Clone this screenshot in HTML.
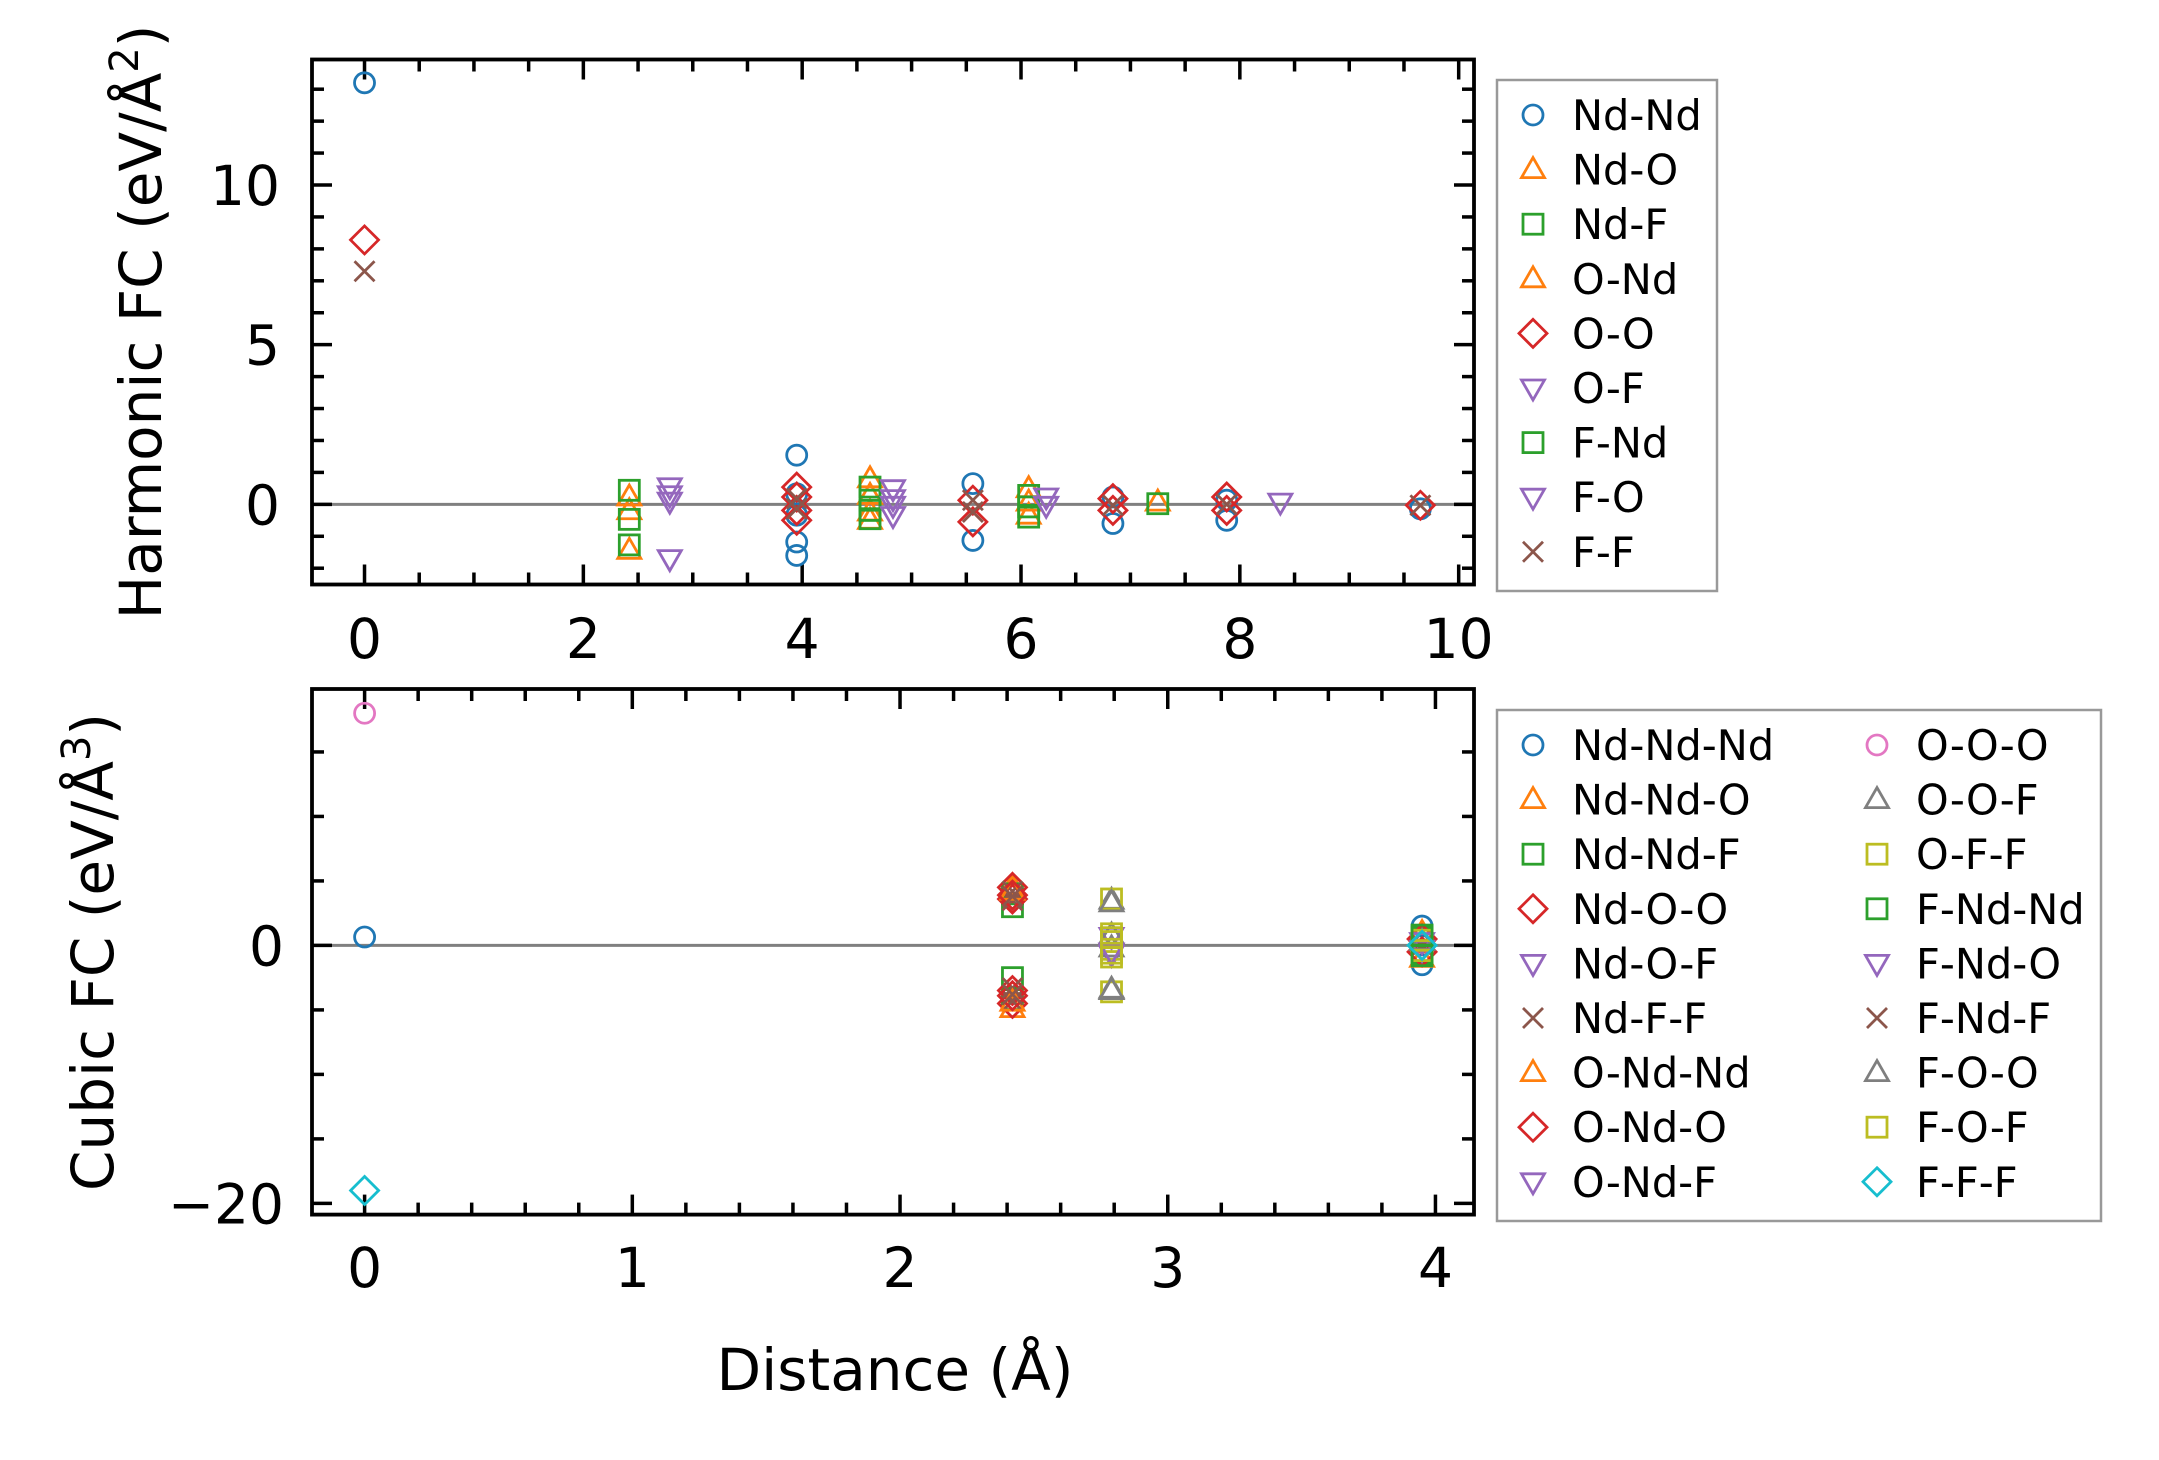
<!DOCTYPE html>
<html><head><meta charset="utf-8">
<style>
html,body{margin:0;padding:0;background:#fff;}
svg{display:block;}
text{font-family:"DejaVu Sans","Liberation Sans",sans-serif;fill:#000;}
</style></head>
<body>
<svg id="fig" width="2159" height="1460" viewBox="0 0 2159 1460" xmlns="http://www.w3.org/2000/svg">
<rect x="0" y="0" width="2159" height="1460" fill="#fff"/>
</svg>
<script>
// ---------- Harmonic (top) data ----------
const hNdNdX=[0,3.95,3.95,3.95,3.95,3.95,5.56,5.56,6.84,6.84,7.88,7.88,9.65];
const hNdNdY=[13.2,1.54,0.33,-0.34,-1.18,-1.6,0.65,-1.13,0.23,-0.6,0.13,-0.5,-0.14];
const hNdOX=[2.42,2.42,2.42,4.62,4.62,4.62,4.62,6.07,6.07,6.07,7.25];
const hNdOY=[0.23,-0.2,-1.44,0.8,0.28,-0.24,-0.5,0.49,0.07,-0.34,0.07];
const hNdFX=[2.42,2.42,2.42,4.62,4.62,4.62,4.62,6.07,6.07,6.07,7.25];
const hNdFY=[0.44,-0.47,-1.27,0.54,0.13,-0.19,-0.45,0.28,-0.08,-0.4,0.02];
const hONdX=[];
const hONdY=[];
const hOOX=[0,3.95,3.95,3.95,3.95,5.56,5.56,6.84,6.84,7.88,7.88,9.65];
const hOOY=[8.28,0.54,0.23,-0.19,-0.5,0.13,-0.55,0.18,-0.19,0.23,-0.19,-0.03];
const hOFX=[2.79,2.79,2.79,2.79,4.83,4.83,4.83,4.83,6.23,6.23,8.37];
const hOFY=[0.55,0.3,0.1,-1.7,0.49,0.18,-0.03,-0.35,0.23,-0.03,0.07];
const hFNdX=[];
const hFNdY=[];
const hFOX=[];
const hFOY=[];
const hFFX=[0,3.95,3.95,5.56,5.56,6.84,7.88,9.65];
const hFFY=[7.3,0.18,-0.14,0.13,-0.24,-0.03,0.0,-0.03];
const hLabels=["Nd-Nd","Nd-O","Nd-F","O-Nd","O-O","O-F","F-Nd","F-O","F-F"];
const hXTicks=[0,2,4,6,8,10];
const hYTicks=[0,5,10];

// ---------- Cubic (bottom) data ----------
const cNdNdNdX=[0,3.95,3.95,3.95,3.95];
const cNdNdNdY=[0.65,1.5,-1.5,0.8,-0.8];
const cNdNdOX=[2.42,2.42,3.95,3.95];
const cNdNdOY=[4.6,-4.9,1.0,-1.0];
const cNdNdFX=[2.42,2.42,2.42,2.42,3.95,3.95];
const cNdNdFY=[4.0,3.0,-2.5,-4.2,0.6,-0.6];
const cNdOOX=[2.42,2.42,2.42,2.42,3.95,3.95];
const cNdOOY=[4.5,3.6,-3.5,-4.5,0.5,-0.5];
const cNdOFX=[2.79,2.79,3.95];
const cNdOFY=[0.7,-0.7,0.3];
const cNdFFX=[2.42,2.42,2.42,2.42,3.95];
const cNdFFY=[4.2,3.5,-3.3,-4.3,0];
const cONdNdX=[2.42,2.42];
const cONdNdY=[4.2,-4.4];
const cONdOX=[2.42,2.42];
const cONdOY=[3.9,-3.9];
const cONdFX=[3.95];
const cONdFY=[-0.3];
const cOOOX=[0];
const cOOOY=[18.0];
const cOOFX=[2.79,2.79,2.79,2.79,3.95];
const cOOFY=[3.5,0.8,-0.2,-3.4,0.3];
const cOFFX=[2.79,2.79,2.79,2.79,2.79,2.79,3.95,3.95];
const cOFFY=[3.6,0.9,0.3,-0.3,-0.9,-3.6,0.4,-0.4];
const cFNdNdX=[3.95,3.95];
const cFNdNdY=[0.8,-0.8];
const cFNdOX=[2.79];
const cFNdOY=[-0.5];
const cFNdFX=[2.42,2.42];
const cFNdFY=[3.8,-3.8];
const cFOOX=[2.79,2.79];
const cFOOY=[3.3,-3.5];
const cFOFX=[2.79,2.79];
const cFOFY=[0.6,-0.6];
const cFFFX=[0,3.95];
const cFFFY=[-19.0,0];
const cLabels=["Nd-Nd-Nd","Nd-Nd-O","Nd-Nd-F","Nd-O-O","Nd-O-F","Nd-F-F","O-Nd-Nd","O-Nd-O","O-Nd-F","O-O-O","O-O-F","O-F-F","F-Nd-Nd","F-Nd-O","F-Nd-F","F-O-O","F-O-F","F-F-F"];
const cXTicks=[0,1,2,3,4];
const cYTicks=[-20,0];

const C={blue:"#1f77b4",orange:"#ff7f0e",green:"#2ca02c",red:"#d62728",purple:"#9467bd",brown:"#8c564b",pink:"#e377c2",gray:"#7f7f7f",olive:"#bcbd22",cyan:"#17becf"};

const svg=document.getElementById('fig');
const NS="http://www.w3.org/2000/svg";
function mk(tag,attrs,parent){const e=document.createElementNS(NS,tag);for(const k in attrs)e.setAttribute(k,attrs[k]);(parent||svg).appendChild(e);return e;}

function marker(g,shape,color,cx,cy){
  let e;const sw=2.8;
  if(shape==='o'){e=mk('circle',{cx:cx,cy:cy,r:10,fill:'none',stroke:color,'stroke-width':sw},g);}
  else if(shape==='^'){e=mk('polygon',{points:`${cx},${cy-12} ${cx-11.5},${cy+8} ${cx+11.5},${cy+8}`,fill:'none',stroke:color,'stroke-width':sw},g);}
  else if(shape==='v'){e=mk('polygon',{points:`${cx},${cy+12} ${cx-11.5},${cy-8} ${cx+11.5},${cy-8}`,fill:'none',stroke:color,'stroke-width':sw},g);}
  else if(shape==='s'){e=mk('rect',{x:cx-10,y:cy-10,width:20,height:20,fill:'none',stroke:color,'stroke-width':sw},g);}
  else if(shape==='D'){e=mk('polygon',{points:`${cx},${cy-14} ${cx+14},${cy} ${cx},${cy+14} ${cx-14},${cy}`,fill:'none',stroke:color,'stroke-width':sw},g);}
  else if(shape==='x'){e=mk('path',{d:`M${cx-10},${cy-10}L${cx+10},${cy+10}M${cx-10},${cy+10}L${cx+10},${cy-10}`,fill:'none',stroke:color,'stroke-width':sw},g);}
  return e;
}

function axes(cfg){
  const {name,L,R,T,B,xmin,xmax,ymin,ymax}=cfg;
  const sx=v=>L+(v-xmin)/(xmax-xmin)*(R-L);
  const sy=v=>B-(v-ymin)/(ymax-ymin)*(B-T);
  const g=mk('g',{});
  
  
  const zl=mk('line',{x1:L,x2:R,y1:sy(0),y2:sy(0),stroke:'#808080','stroke-width':3},g);
  
  
  const tg=mk('g',{stroke:'#000','stroke-width':3.5},g);
  
  
  const addX=(v,len)=>{const x=sx(v);if(x<L-1||x>R+1)return;mk('line',{x1:x,x2:x,y1:B,y2:B-len},tg);mk('line',{x1:x,x2:x,y1:T,y2:T+len},tg);};
  const addY=(v,len)=>{const y=sy(v);if(y<T-1||y>B+1)return;mk('line',{x1:L,x2:L+len,y1:y,y2:y},tg);mk('line',{x1:R,x2:R-len,y1:y,y2:y},tg);};
  for(let v=Math.ceil(xmin/cfg.xMinor)*cfg.xMinor;v<=xmax;v+=cfg.xMinor){const isMaj=Math.abs(v/cfg.xMajor-Math.round(v/cfg.xMajor))<1e-6;addX(v,isMaj?20:12);}
  for(let v=Math.ceil(ymin/cfg.yMinor)*cfg.yMinor;v<=ymax;v+=cfg.yMinor){const isMaj=Math.abs(v/cfg.yMajor-Math.round(v/cfg.yMajor))<1e-6;addY(v,isMaj?20:12);}
  cfg.xTicks.forEach(v=>{const t=mk('text',{x:sx(v),y:cfg.xLabY,'font-size':55,'text-anchor':'middle'},g);t.textContent=String(v);
    
    });
  cfg.yTicks.forEach(v=>{const t=mk('text',{x:cfg.yLabX,y:sy(v)+20,'font-size':55,'text-anchor':'end'},g);t.textContent=v<0?'\u2212'+Math.abs(v):String(v);
    
    });
  cfg.series.forEach(s=>{
    const sg=mk('g',{},g);
    
    
    for(let i=0;i<s.x.length;i++){
      const m=marker(sg,s.shape,s.color,sx(s.x[i]),sy(s.y[i]));
      
      
    }
  });
  const fr=mk('rect',{x:L,y:T,width:R-L,height:B-T,fill:'none',stroke:'#000','stroke-width':3.8},g);
  
  
}

function legend(name,x,y,w,h,cols){
  const g=mk('g',{});
  
  
  mk('rect',{x:x,y:y,width:w,height:h,fill:'#fff',stroke:'#999','stroke-width':2.5},g);
  cols.forEach(col=>{
    col.items.forEach((s,i)=>{
      const cy=col.y0+i*54.6;
      const eg=mk('g',{},g);
      
      
      marker(eg,s.shape,s.color,col.mx,cy);
      const t=mk('text',{x:col.tx,y:cy+15,'font-size':41.5},eg);t.textContent=s.label;
    });
  });
}

const hSeries=[
 {label:hLabels[0],shape:'o',color:C.blue,x:hNdNdX,y:hNdNdY},
 {label:hLabels[1],shape:'^',color:C.orange,x:hNdOX,y:hNdOY},
 {label:hLabels[2],shape:'s',color:C.green,x:hNdFX,y:hNdFY},
 {label:hLabels[3],shape:'^',color:C.orange,x:hONdX,y:hONdY},
 {label:hLabels[4],shape:'D',color:C.red,x:hOOX,y:hOOY},
 {label:hLabels[5],shape:'v',color:C.purple,x:hOFX,y:hOFY},
 {label:hLabels[6],shape:'s',color:C.green,x:hFNdX,y:hFNdY},
 {label:hLabels[7],shape:'v',color:C.purple,x:hFOX,y:hFOY},
 {label:hLabels[8],shape:'x',color:C.brown,x:hFFX,y:hFFY}
];
const cSeries=[
 {label:cLabels[0],shape:'o',color:C.blue,x:cNdNdNdX,y:cNdNdNdY},
 {label:cLabels[1],shape:'^',color:C.orange,x:cNdNdOX,y:cNdNdOY},
 {label:cLabels[2],shape:'s',color:C.green,x:cNdNdFX,y:cNdNdFY},
 {label:cLabels[3],shape:'D',color:C.red,x:cNdOOX,y:cNdOOY},
 {label:cLabels[4],shape:'v',color:C.purple,x:cNdOFX,y:cNdOFY},
 {label:cLabels[5],shape:'x',color:C.brown,x:cNdFFX,y:cNdFFY},
 {label:cLabels[6],shape:'^',color:C.orange,x:cONdNdX,y:cONdNdY},
 {label:cLabels[7],shape:'D',color:C.red,x:cONdOX,y:cONdOY},
 {label:cLabels[8],shape:'v',color:C.purple,x:cONdFX,y:cONdFY},
 {label:cLabels[9],shape:'o',color:C.pink,x:cOOOX,y:cOOOY},
 {label:cLabels[10],shape:'^',color:C.gray,x:cOOFX,y:cOOFY},
 {label:cLabels[11],shape:'s',color:C.olive,x:cOFFX,y:cOFFY},
 {label:cLabels[12],shape:'s',color:C.green,x:cFNdNdX,y:cFNdNdY},
 {label:cLabels[13],shape:'v',color:C.purple,x:cFNdOX,y:cFNdOY},
 {label:cLabels[14],shape:'x',color:C.brown,x:cFNdFX,y:cFNdFY},
 {label:cLabels[15],shape:'^',color:C.gray,x:cFOOX,y:cFOOY},
 {label:cLabels[16],shape:'s',color:C.olive,x:cFOFX,y:cFOFY},
 {label:cLabels[17],shape:'D',color:C.cyan,x:cFFFX,y:cFFFY}
];

axes({name:'harmonic',L:312,R:1474,T:59.5,B:584.5,xmin:-0.48,xmax:10.14,ymin:-2.51,ymax:13.93,
  xMajor:2,xMinor:0.5,yMajor:5,yMinor:1,xTicks:hXTicks,yTicks:hYTicks,xLabY:658,yLabX:280,series:hSeries});
axes({name:'cubic',L:312,R:1474,T:689,B:1214.6,xmin:-0.1965,xmax:4.144,ymin:-20.87,ymax:19.88,
  xMajor:1,xMinor:0.2,yMajor:20,yMinor:5,xTicks:cXTicks,yTicks:cYTicks,xLabY:1287,yLabX:284,series:cSeries});

legend('harmonic-legend',1497,80,220,511,[{mx:1533,tx:1572,y0:115,items:hSeries}]);
legend('cubic-legend',1497,710,604,511,[{mx:1533,tx:1572,y0:745,items:cSeries.slice(0,9)},{mx:1877,tx:1916,y0:745,items:cSeries.slice(9)}]);
</script>
<script>
const fig=document.getElementById('fig');
const NS2="http://www.w3.org/2000/svg";
function lab(x,y,rot,html,name){
  const t=document.createElementNS(NS2,'text');
  t.setAttribute('x',x);t.setAttribute('y',y);t.setAttribute('font-size',58);t.setAttribute('text-anchor','middle');
  if(rot)t.setAttribute('transform',`rotate(-90 ${x} ${y})`);
  t.innerHTML=html;
  
  
  fig.appendChild(t);
}
lab(161,322,true,'Harmonic FC (eV/Å<tspan font-size="40" dy="-23">2</tspan><tspan dy="23">)</tspan>','harmonic-y-axis-title');
lab(113,952,true,'Cubic FC (eV/Å<tspan font-size="40" dy="-23">3</tspan><tspan dy="23">)</tspan>','cubic-y-axis-title');
lab(895,1390,false,'Distance (Å)','x-axis-title');
</script>
</body></html>
